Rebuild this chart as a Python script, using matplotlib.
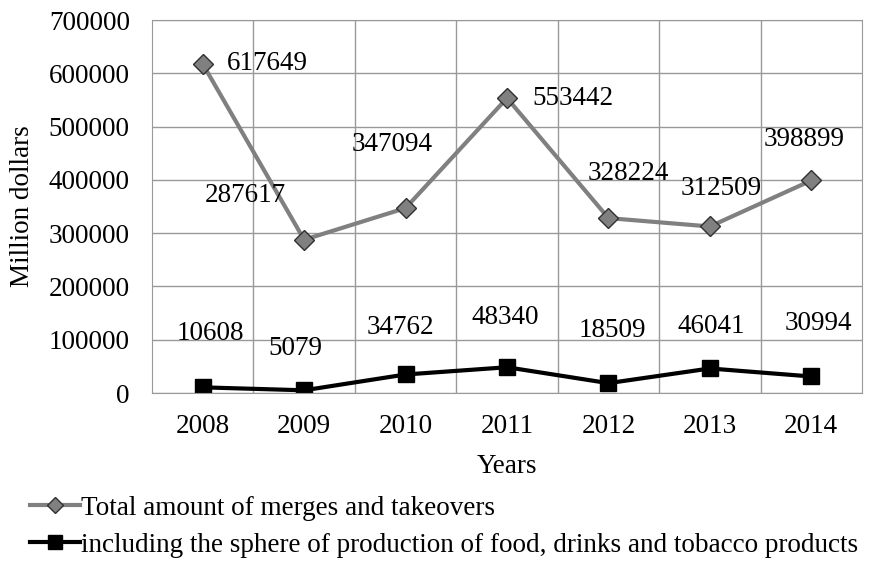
import numpy as np
import matplotlib.pyplot as plt

plt.rcParams['font.family'] = ['Liberation Serif', 'DejaVu Serif']

years = ['2008', '2009', '2010', '2011', '2012', '2013', '2014']
total = [617649, 287617, 347094, 553442, 328224, 312509, 398899]
food = [10608, 5079, 34762, 48340, 18509, 46041, 30994]

# label offsets in pixels (as positioned in the source chart)
total_off = [(65, 0), (-59, 44), (-13, 64), (66, 0), (20, 45), (11, 38), (-7, 41)]
food_off = [(8, 54), (-9, 42), (-5, 47), (-2, 50), (4, 53), (1, 42), (7, 53)]

fig = plt.figure(figsize=(8.71, 5.62), dpi=100)
ax = fig.add_axes([0.1745, 0.3007, 0.8152, 0.6637])

x = np.arange(len(years))
ax.plot(x, total, color='#808080', lw=3, marker='D', ms=10,
        mfc='#808080', mec='#303030', mew=1, label='Total amount of merges and takeovers')
ax.plot(x, food, color='black', lw=3, marker='s', ms=12,
        mfc='black', mec='black', label='including the sphere of production of food, drinks and tobacco products')

fs = 19.5
for i in range(len(years)):
    ax.annotate(str(total[i]), (x[i], total[i]), xytext=total_off[i],
                textcoords='offset pixels', ha='center', va='center', fontsize=fs)
    ax.annotate(str(food[i]), (x[i], food[i]), xytext=food_off[i],
                textcoords='offset pixels', ha='center', va='center', fontsize=fs)

ax.set_xlim(-0.5, 6.5)
ax.set_ylim(0, 700000)
ax.set_yticks(np.arange(0, 700001, 100000))
ax.set_xticks(x)
ax.set_xticklabels(years)
ax.set_xticks(np.arange(0.5, 6.5, 1), minor=True)
ax.grid(True, which='major', axis='y', color='#999999', lw=1)
ax.grid(True, which='minor', axis='x', color='#999999', lw=1)
ax.set_axisbelow(True)
for s in ax.spines.values():
    s.set_color('#999999')
ax.tick_params(which='both', length=0, labelsize=fs)
ax.tick_params(axis='y', pad=16)
ax.tick_params(axis='x', pad=15)
ax.set_xlabel('Years', fontsize=fs, labelpad=11)
ax.set_ylabel('Million dollars', fontsize=fs, labelpad=10)

fig.legend(loc='upper left', bbox_to_anchor=(0.034, 0.118), frameon=False,
           fontsize=19.5, handlelength=1.85, handletextpad=0.05, labelspacing=0.45,
           borderpad=0, borderaxespad=0, markerscale=0.8)

fig.savefig('out.png', dpi=100)
